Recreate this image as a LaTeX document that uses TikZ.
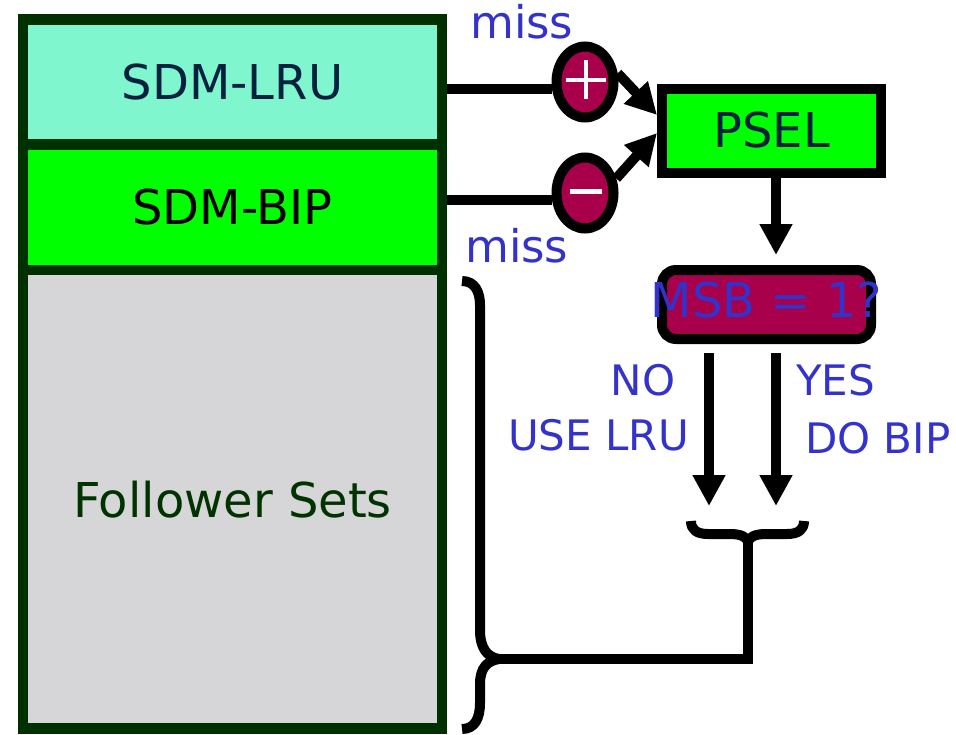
\documentclass[tikz,border=0pt]{standalone}
\usepackage{fontspec}
\setmainfont{DejaVu Sans}
\usetikzlibrary{arrows.meta,shapes.geometric}
\definecolor{dkgreen}{RGB}{0,48,0}
\definecolor{lrufill}{RGB}{128,246,206}
\definecolor{bipfill}{RGB}{0,255,0}
\definecolor{fgray}{RGB}{214,214,216}
\definecolor{fgreen}{RGB}{0,51,0}
\definecolor{crimson}{RGB}{168,0,74}
\definecolor{labelblue}{RGB}{51,51,204}
\definecolor{navy}{RGB}{0,32,64}
\begin{document}
\begin{tikzpicture}[x=1pt,y=-1pt,
  bigfont/.style={font=\fontsize{48pt}{56pt}\selectfont},
  setbox/.style={draw=dkgreen, line width=10.5pt, minimum width=419pt, inner sep=0pt, bigfont},
  pm/.style={ellipse, draw=black, line width=10pt, fill=crimson, minimum width=57pt, minimum height=71pt, inner sep=0pt},
  sign/.style={white, line width=4.5pt},
  conn/.style={line width=10pt, black},
  arr/.style={conn, -{Triangle[length=31pt,width=31pt]}},
  lbl/.style={text=labelblue, font=\fontsize{42pt}{50pt}\selectfont, inner sep=0pt},
  misslbl/.style={text=labelblue, font=\fontsize{45pt}{52pt}\selectfont, inner sep=0pt},
  bracepath/.style={line width=10pt, black, line join=round}
]
\useasboundingbox (0,0) rectangle (956,734);
\clip (0,0) rectangle (956,734);

% set boxes
\node[setbox, fill=lrufill, text=navy, minimum height=125pt] (lru) at (232.5,82) {SDM-LRU};
\node[setbox, fill=bipfill, text=black, minimum height=125.5pt] (bip) at (232.5,207.25) {SDM-BIP};
\node[setbox, fill=fgray, text=fgreen, minimum height=458.5pt] (fol) at (232.5,499.25) {Follower Sets};

% plus / minus
\node[pm] (plus) at (585,82) {};
\node[pm] (minus) at (585,193) {};
\draw[sign] ([xshift=-19pt,yshift=2pt]plus.center) -- ([xshift=21pt,yshift=2pt]plus.center);
\draw[sign] ([xshift=1pt,yshift=22pt]plus.center) -- ([xshift=1pt,yshift=-17pt]plus.center);
\draw[white, line width=5pt] ([xshift=-15pt,yshift=2pt]minus.center) -- ([xshift=17pt,yshift=2pt]minus.center);

% PSEL and MSB
\node[draw=black, line width=10pt, fill=bipfill, minimum width=219pt, minimum height=84pt, inner sep=0pt, text=navy, bigfont] (psel) at (771.5,131) {\raisebox{3pt}{PSEL}};
\node[draw=black, line width=10pt, fill=crimson, rounded corners=14pt, minimum width=209pt, minimum height=69pt, inner sep=0pt, text=labelblue, bigfont] (msb) at (766.5,304.5) {\makebox[0pt]{\raisebox{-13pt}[0pt][0pt]{MSB = 1?}}};

% miss labels
\node[misslbl, anchor=base west] (miss1) at (470,38) {miss};
\node[misslbl, anchor=base west] (miss2) at (465,262) {miss};

% connectors
\draw[conn] ([yshift=-7pt]lru.east) -- ([yshift=-7pt]lru.east -| plus.west);
\draw[conn] ([yshift=7.25pt]bip.east) -- ([yshift=7.25pt]bip.east -| minus.west);
\draw[arr] (plus.15) -- ([yshift=16pt]psel.west);
\draw[arr] (minus.25) -- ([yshift=-2pt]psel.west);
\draw[arr, shorten >=10pt] ([xshift=4.5pt]psel.south) -- ([xshift=4.5pt]psel.south |- msb.north);

\coordinate (noend) at (709,506);
\coordinate (yesend) at (776,506);
\draw[arr, shorten <=9pt] (msb.south -| noend) -- (noend);
\draw[arr, shorten <=9pt] (msb.south -| yesend) -- (yesend);

% decision labels
\node[lbl] (no) at (643,380) {NO};
\node[lbl, anchor=east] (uselru) at (689,435) {USE LRU};
\node[lbl, anchor=west] (yes) at (796,380) {YES};
\node[lbl, anchor=west] (dobip) at (805,438) {DO BIP};

% braces
\coordinate (sbtip) at (748,542);
\coordinate (bbtip) at (499,659);
\draw[bracepath] (691,521) .. controls (691,530) and (697,534) .. (708,534) -- (730,534)
  .. controls (741,534) and (747,537) .. (sbtip)
  .. controls (749,537) and (755,534) .. (766,534) -- (787,534)
  .. controls (798,534) and (804,530) .. (804,521);
\draw[bracepath] (462,281) .. controls (475,281) and (480,292) .. (480,305) -- (480,630)
  .. controls (480,648) and (487,657) .. (bbtip)
  .. controls (487,661) and (480,668) .. (480,684) -- (480,703)
  .. controls (480,718) and (475,729) .. (462,729);
\draw[conn] (sbtip) |- (bbtip);
\end{tikzpicture}
\end{document}
